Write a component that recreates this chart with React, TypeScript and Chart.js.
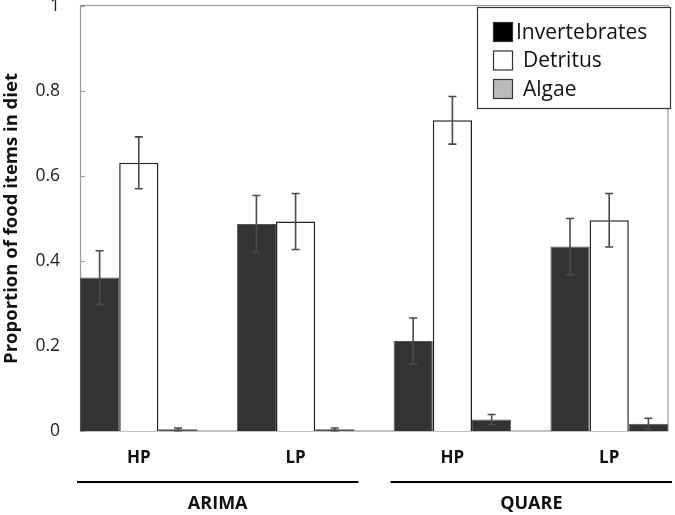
import React, { useEffect, useRef } from "react";
import { Chart, registerables } from "chart.js";

Chart.register(...registerables);

const categories = ["HP", "LP", "HP", "LP"];
const sites = ["ARIMA", "QUARE"];
const siteSpans = [
  [0, 1],
  [2, 3],
];
const seriesNames = ["Invertebrates", "Detritus", "Algae"];
const invertebrates = [0.361, 0.487, 0.212, 0.434];
const invertebratesErr = [0.063, 0.067, 0.054, 0.066];
const detritus = [0.631, 0.493, 0.731, 0.496];
const detritusErr = [0.061, 0.066, 0.056, 0.063];
const algae = [0.004, 0.004, 0.027, 0.017];
const algaeErr = [0.003, 0.003, 0.012, 0.013];
const yTicks = [0, 0.2, 0.4, 0.6, 0.8, 1];

const barFills = ["#333333", "#ffffff", "#333333"];
const barBorders = ["#555555", "#222222", "#555555"];
const legendFills = ["#000000", "#ffffff", "#bbbbbb"];

const GROUP = 0.75; // fraction of category spacing occupied by the bars

const FONT = "'Open Sans', 'DejaVu Sans', sans-serif";

const toPoints = (arr: number[]) => arr.map((y, i) => ({ x: i, y }));

const errorPlugin = {
  id: "errorBars",
  afterDatasetsDraw(chart: any) {
    const ctx = chart.ctx;
    const ys = chart.scales.y;
    chart.data.datasets.forEach((ds: any, di: number) => {
      const meta = chart.getDatasetMeta(di);
      meta.data.forEach((el: any, i: number) => {
        const v = ds.data[i].y;
        const e = ds.errors[i];
        const top = ys.getPixelForValue(v + e);
        const bot = ys.getPixelForValue(Math.max(0, v - e));
        const x = el.x;
        ctx.save();
        ctx.strokeStyle = "#4a4a4a";
        ctx.lineWidth = 1.6;
        ctx.beginPath();
        ctx.moveTo(x, top);
        ctx.lineTo(x, bot);
        ctx.moveTo(x - 4, top);
        ctx.lineTo(x + 4, top);
        ctx.moveTo(x - 4, bot);
        ctx.lineTo(x + 4, bot);
        ctx.stroke();
        ctx.restore();
      });
    });
  },
};

const framePlugin = {
  id: "frame",
  beforeDatasetsDraw(chart: any) {
    const { ctx, chartArea } = chart;
    const ys = chart.scales.y;
    ctx.save();
    ctx.strokeStyle = "#9a9a9a";
    ctx.lineWidth = 1.2;
    ctx.strokeRect(
      chartArea.left + 0.5,
      chartArea.top - 0.5,
      chartArea.right - chartArea.left - 0.5,
      chartArea.bottom - chartArea.top + 0.5
    );
    ctx.beginPath();
    yTicks.forEach((t) => {
      const py = Math.round(ys.getPixelForValue(t)) + 0.5;
      ctx.moveTo(chartArea.left, py);
      ctx.lineTo(chartArea.left + 5, py);
    });
    ctx.stroke();
    ctx.restore();
  },
};

const annotationPlugin = {
  id: "annotations",
  afterDraw(chart: any) {
    const { ctx, chartArea } = chart;
    const xs = chart.scales.x;
    ctx.save();
    // site group lines and labels
    siteSpans.forEach((span, si) => {
      const left = xs.getPixelForValue(span[0] - GROUP / 2) - 3;
      const right = xs.getPixelForValue(span[1] + GROUP / 2) + 4;
      const ly = chartArea.bottom + 51;
      ctx.strokeStyle = "#000";
      ctx.lineWidth = 2;
      ctx.beginPath();
      ctx.moveTo(left, ly);
      ctx.lineTo(right, ly);
      ctx.stroke();
      ctx.fillStyle = "#111";
      ctx.font = `bold 18px ${FONT}`;
      ctx.textAlign = "center";
      ctx.textBaseline = "middle";
      ctx.fillText(sites[si], (left + right) / 2, chartArea.bottom + 73);
    });

    // legend box
    const bx = chartArea.right - 191;
    const by = chartArea.top + 1;
    const bw = 193;
    const bh = 101;
    ctx.fillStyle = "#fff";
    ctx.fillRect(bx, by, bw, bh);
    ctx.strokeStyle = "#333";
    ctx.lineWidth = 1.2;
    ctx.strokeRect(bx + 0.5, by + 0.5, bw, bh);
    ctx.font = `21px ${FONT}`;
    ctx.textAlign = "left";
    ctx.textBaseline = "middle";
    seriesNames.forEach((name, i) => {
      const cy = by + 25 + i * 28.5;
      ctx.fillStyle = legendFills[i];
      ctx.fillRect(bx + 16, cy - 10, 20, 20);
      ctx.strokeStyle = "#333";
      ctx.lineWidth = 1.2;
      ctx.strokeRect(bx + 16.5, cy - 9.5, 19, 19);
      ctx.fillStyle = "#111";
      ctx.fillText(name, bx + (i === 0 ? 39 : 46), cy + 1);
    });
    ctx.restore();
  },
};

export default function App() {
  const ref = useRef<HTMLCanvasElement | null>(null);

  useEffect(() => {
    if (!ref.current) return;
    const series = [
      { data: invertebrates, err: invertebratesErr },
      { data: detritus, err: detritusErr },
      { data: algae, err: algaeErr },
    ];
    const chart = new Chart(ref.current, {
      type: "bar",
      data: {
        datasets: series.map((s, i) => ({
          label: seriesNames[i],
          data: toPoints(s.data),
          errors: s.err,
          backgroundColor: barFills[i],
          borderColor: barBorders[i],
          borderWidth: i === 1 ? 1.5 : 1,
          barPercentage: 1,
          categoryPercentage: GROUP,
        })) as any,
      },
      options: {
        animation: false,
        responsive: true,
        maintainAspectRatio: false,
        layout: { padding: { top: 6, right: 7, left: 0, bottom: 0 } },
        plugins: {
          legend: { display: false },
          tooltip: { enabled: false },
        },
        scales: {
          x: {
            type: "linear",
            min: -GROUP / 2,
            max: categories.length - 1 + GROUP / 2,
            offset: false,
            grid: { display: false, drawTicks: false },
            border: { display: false },
            afterBuildTicks: (scale: any) => {
              scale.ticks = categories.map((_, i) => ({ value: i }));
            },
            afterFit: (scale: any) => {
              scale.height = 84;
              scale.paddingLeft = 0;
              scale.paddingRight = 0;
            },
            ticks: {
              autoSkip: false,
              maxRotation: 0,
              padding: 17,
              color: "#111",
              font: { family: FONT, size: 17, weight: "bold" },
              callback: (v: any) => categories[Math.round(Number(v))] ?? "",
            },
          },
          y: {
            min: 0,
            max: 1,
            grid: { display: false, drawTicks: false },
            border: { display: false },
            afterBuildTicks: (scale: any) => {
              scale.ticks = yTicks.map((v) => ({ value: v }));
            },
            afterFit: (scale: any) => {
              scale.width = 80;
              scale.paddingTop = 0;
              scale.paddingBottom = 0;
            },
            ticks: {
              padding: 20,
              color: "#222",
              font: { family: FONT, size: 17.5 },
              callback: (v: any) => String(Number(Number(v).toFixed(1))),
            },
            title: {
              display: true,
              text: "Proportion of food items in diet",
              color: "#111",
              padding: { top: 1, bottom: 0 },
              font: { family: FONT, size: 18.5, weight: "bold" },
            },
          },
        },
      } as any,
      plugins: [framePlugin, errorPlugin, annotationPlugin],
    });
    return () => chart.destroy();
  }, []);

  return (
    <div
      style={{
        position: "absolute",
        left: 0,
        top: 0,
        width: 675,
        height: 515,
        background: "#fff",
      }}
    >
      <canvas ref={ref} />
    </div>
  );
}
